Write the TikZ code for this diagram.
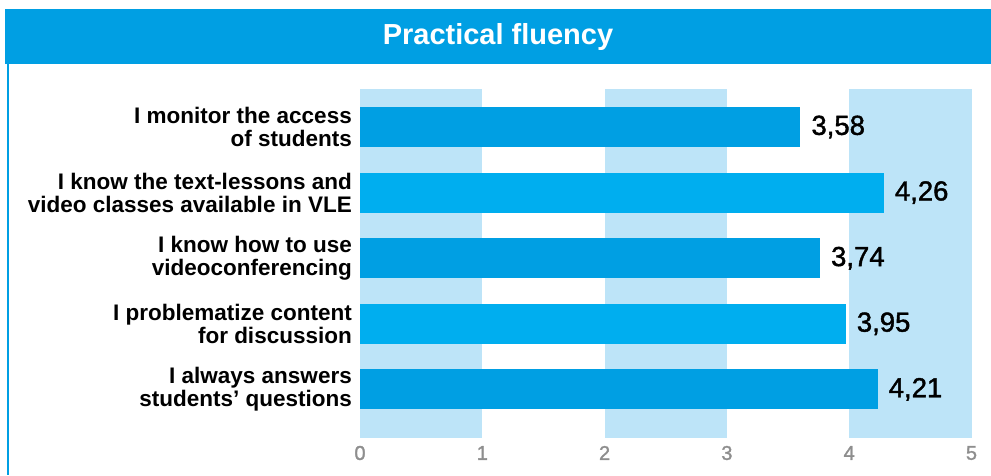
\documentclass[tikz,border=0pt]{standalone}
\usepackage{fontspec}
\setmainfont{Liberation Sans}
\newfontfamily\valfont[FakeBold=1.5]{Liberation Sans}
\definecolor{barblue}{HTML}{009FE3}
\definecolor{barcyan}{HTML}{00AEEF}
\definecolor{bandblue}{HTML}{BDE4F8}
\definecolor{tickgray}{HTML}{8E8E8E}
\begin{document}
\begin{tikzpicture}[x=1pt,y=-1pt,
    catlabel/.style={anchor=east,align=right,inner sep=0pt,font=\bfseries\fontsize{22.5}{23}\selectfont},
    vallabel/.style={anchor=west,inner sep=0pt,font=\valfont\fontsize{27.5}{27.5}\selectfont},
    ticklabel/.style={text=tickgray,inner sep=0pt,font=\valfont\fontsize{20}{20}\selectfont}]
    \useasboundingbox(0,0)rectangle(991,475);
    \fill[barblue](5,9)rectangle(991,64)node[midway,white,font=\bfseries\fontsize{29}{29}\selectfont](title){Practical fluency};
    \draw[barblue,line width=2.6pt](8,64)--(8,475);
    % bands and scale
    \foreach \k in {0,2,4}
        \fill[bandblue]({360+122.3*\k},89)rectangle({360+122.3*(\k+1)},438);
    \foreach \k in {0,...,5}
        \node[ticklabel](tick\k) at ({360+122.3*\k},453){\k};
    % bars
    \foreach \v/\t/\c [count=\i] in {3.58/{3,58}/barblue,4.26/{4,26}/barcyan,3.74/{3,74}/barblue,3.95/{3,95}/barcyan,4.21/{4,21}/barblue}{
        \fill[\c](360,{107+65.6*(\i-1)})rectangle({361+122.7*\v},{147+65.6*(\i-1)});
        \node[vallabel](val\i) at ({372+122.7*\v},{127+65.6*(\i-1)}){\t};
    }
    \foreach \q [count=\i] in {{I monitor the access\\of students},
        {I know the text-lessons and\\video classes available in VLE},
        {I know how to use\\videoconferencing},
        {I problematize content\\for discussion},
        {I always answers\\students’ questions}}
        \node[catlabel](cat\i) at (352,{127+65.6*(\i-1)}){\q};
\end{tikzpicture}
\end{document}
